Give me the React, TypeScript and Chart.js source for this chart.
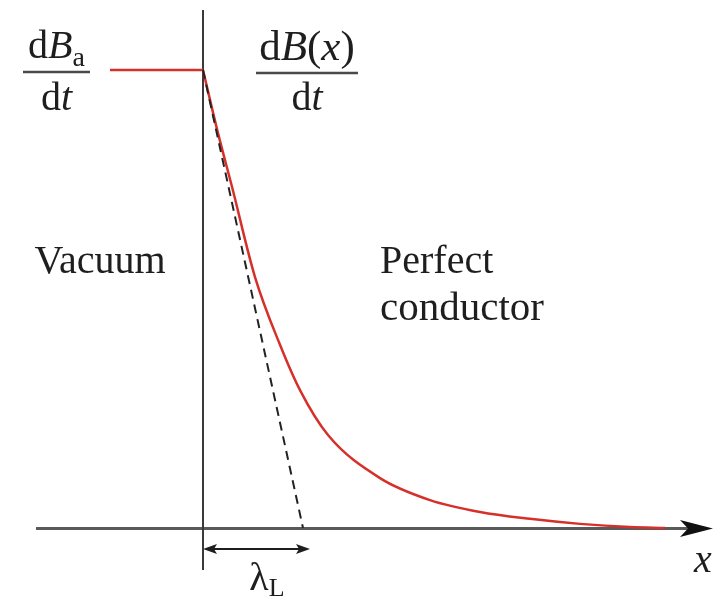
import { useEffect, useRef } from "react";
import { Chart, registerables } from "chart.js";

Chart.register(...registerables);

// Depth x measured in units of the London penetration depth λL,
// field rate normalised to the applied value dBa/dt.
const vacuumX = [-0.93, 0];
const vacuumRate = [1, 1];
const conductorX = [0, 0.14, 0.29, 0.52, 0.77, 0.97, 1.25, 1.77, 2.27, 2.77, 3.27, 3.77, 4.27, 4.62];
const conductorRate = [1, 0.871, 0.745, 0.548, 0.4, 0.301, 0.203, 0.109, 0.061, 0.035, 0.02, 0.009, 0.002, 0];
const tangentX = [0, 1];
const tangentRate = [1, 0];
const lambdaSpan = [0, 1.07];
const xRange = [-1.67, 5.1];
const yRange = [-0.0917, 1.131];

const SERIF = '"Liberation Serif", "DejaVu Serif", serif';
const INK = "#1e1e1e";
const RED = "#d6302a";

type Run = { t: string; italic?: boolean; size: number; dy?: number };

const font = (r: Run) => `${r.italic ? "italic " : ""}${r.size}px ${SERIF}`;

function drawRuns(ctx: CanvasRenderingContext2D, runs: Run[], cx: number, baseline: number, align: "center" | "left" = "center") {
  let total = 0;
  for (const r of runs) {
    ctx.font = font(r);
    total += ctx.measureText(r.t).width;
  }
  let x = align === "center" ? cx - total / 2 : cx;
  ctx.textAlign = "left";
  ctx.textBaseline = "alphabetic";
  for (const r of runs) {
    ctx.font = font(r);
    ctx.fillText(r.t, x, baseline + (r.dy ?? 0));
    x += ctx.measureText(r.t).width;
  }
}

function arrowHead(ctx: CanvasRenderingContext2D, tipX: number, y: number, dir: number, len: number, half: number, notch: number) {
  ctx.beginPath();
  ctx.moveTo(tipX, y);
  ctx.lineTo(tipX - dir * len, y - half);
  ctx.lineTo(tipX - dir * (len - notch), y);
  ctx.lineTo(tipX - dir * len, y + half);
  ctx.closePath();
  ctx.fill();
}

const pts = (xs: number[], ys: number[]) => xs.map((x, i) => ({ x, y: ys[i] }));

const diagramPlugin = {
  id: "diagram",
  beforeDatasetsDraw(chart: Chart) {
    const { ctx, chartArea, scales } = chart;
    const sx = scales.x;
    const sy = scales.y;
    const y0 = sy.getPixelForValue(0) + 0.5;
    const x0 = sx.getPixelForValue(0);
    ctx.save();
    // horizontal x axis with arrow
    ctx.strokeStyle = "#5a5a5a";
    ctx.lineWidth = 3;
    ctx.beginPath();
    ctx.moveTo(chartArea.left, y0);
    ctx.lineTo(chartArea.right - 10, y0);
    ctx.stroke();
    ctx.fillStyle = "#111";
    arrowHead(ctx, chartArea.right, y0, 1, 33, 8.5, 8);
    // vacuum / conductor boundary
    ctx.strokeStyle = "#3a3a3a";
    ctx.lineWidth = 2;
    ctx.beginPath();
    ctx.moveTo(x0, chartArea.top);
    ctx.lineTo(x0, chartArea.bottom);
    ctx.stroke();
    ctx.restore();
  },
  afterDraw(chart: Chart) {
    const { ctx, scales } = chart;
    const sx = scales.x;
    const sy = scales.y;
    const px = (v: number) => sx.getPixelForValue(v);
    const py = (v: number) => sy.getPixelForValue(v);
    ctx.save();
    ctx.fillStyle = INK;
    ctx.strokeStyle = INK;

    // λL span arrow
    const ay = py(-0.046);
    const a0 = px(lambdaSpan[0]);
    const a1 = px(lambdaSpan[1]);
    ctx.lineWidth = 2;
    ctx.beginPath();
    ctx.moveTo(a0 + 6, ay);
    ctx.lineTo(a1 - 6, ay);
    ctx.stroke();
    arrowHead(ctx, a0, ay, -1, 14, 5, 3);
    arrowHead(ctx, a1, ay, 1, 14, 5, 3);

    // fractions
    const fraction = (cx: number, barY: number, halfW: number, num: Run[], numOff: number, denOff: number) => {
      ctx.lineWidth = 2.5;
      ctx.strokeStyle = "#4a4a4a";
      ctx.beginPath();
      ctx.moveTo(cx - halfW, barY);
      ctx.lineTo(cx + halfW, barY);
      ctx.stroke();
      drawRuns(ctx, num, cx, barY - numOff);
      drawRuns(ctx, [{ t: "d", size: 40 }, { t: "t", italic: true, size: 40 }], cx, barY + denOff);
    };
    fraction(
      px(-1.465), py(0.9956), 33.5,
      [{ t: "d", size: 40 }, { t: "B", italic: true, size: 40 }, { t: "a", size: 28, dy: 8 }],
      14, 38
    );
    fraction(
      px(1.04), py(0.9934), 51,
      [
        { t: "d", size: 43 },
        { t: "B", italic: true, size: 43 },
        { t: "(", size: 43 },
        { t: "x", italic: true, size: 43 },
        { t: ")", size: 43 },
      ],
      13, 37
    );

    // region labels
    drawRuns(ctx, [{ t: "Vacuum", size: 40 }], px(-1.03), py(0.557));
    drawRuns(ctx, [{ t: "Perfect", size: 40 }], px(1.77), py(0.557), "left");
    drawRuns(ctx, [{ t: "conductor", size: 41 }], px(1.77), py(0.454), "left");

    // λL and x labels
    drawRuns(ctx, [{ t: "λ", size: 40 }, { t: "L", size: 26, dy: 6 }], px(0.64), py(-0.135));
    drawRuns(ctx, [{ t: "x", italic: true, size: 40 }], px(5.0), py(-0.096));
    ctx.restore();
  },
};

export default function App() {
  const canvasRef = useRef<HTMLCanvasElement | null>(null);

  useEffect(() => {
    const canvas = canvasRef.current;
    if (!canvas) return;
    const chart = new Chart(canvas, {
      type: "scatter",
      data: {
        datasets: [
          {
            label: "tangent",
            data: pts(tangentX, tangentRate),
            showLine: true,
            borderColor: "#222",
            borderWidth: 2,
            borderDash: [9, 6],
            pointRadius: 0,
            order: 0,
          },
          {
            label: "dB(x)/dt",
            data: pts(conductorX, conductorRate),
            showLine: true,
            borderColor: RED,
            borderWidth: 2.5,
            cubicInterpolationMode: "monotone",
            pointRadius: 0,
            order: 1,
          },
          {
            label: "dBa/dt",
            data: pts(vacuumX, vacuumRate),
            showLine: true,
            borderColor: RED,
            borderWidth: 2.5,
            pointRadius: 0,
            order: 1,
          },
        ],
      },
      options: {
        animation: false,
        responsive: false,
        events: [],
        layout: { padding: { left: 36, right: 3, top: 10, bottom: 27 } },
        plugins: { legend: { display: false }, tooltip: { enabled: false } },
        scales: {
          x: { type: "linear", min: xRange[0], max: xRange[1], display: false },
          y: { type: "linear", min: yRange[0], max: yRange[1], display: false },
        },
      },
      plugins: [diagramPlugin],
    });
    return () => chart.destroy();
  }, []);

  return (
    <div style={{ position: "absolute", left: 0, top: 0, width: 716, height: 597, background: "#fff" }}>
      <canvas ref={canvasRef} width={716} height={597} style={{ display: "block" }} />
    </div>
  );
}
